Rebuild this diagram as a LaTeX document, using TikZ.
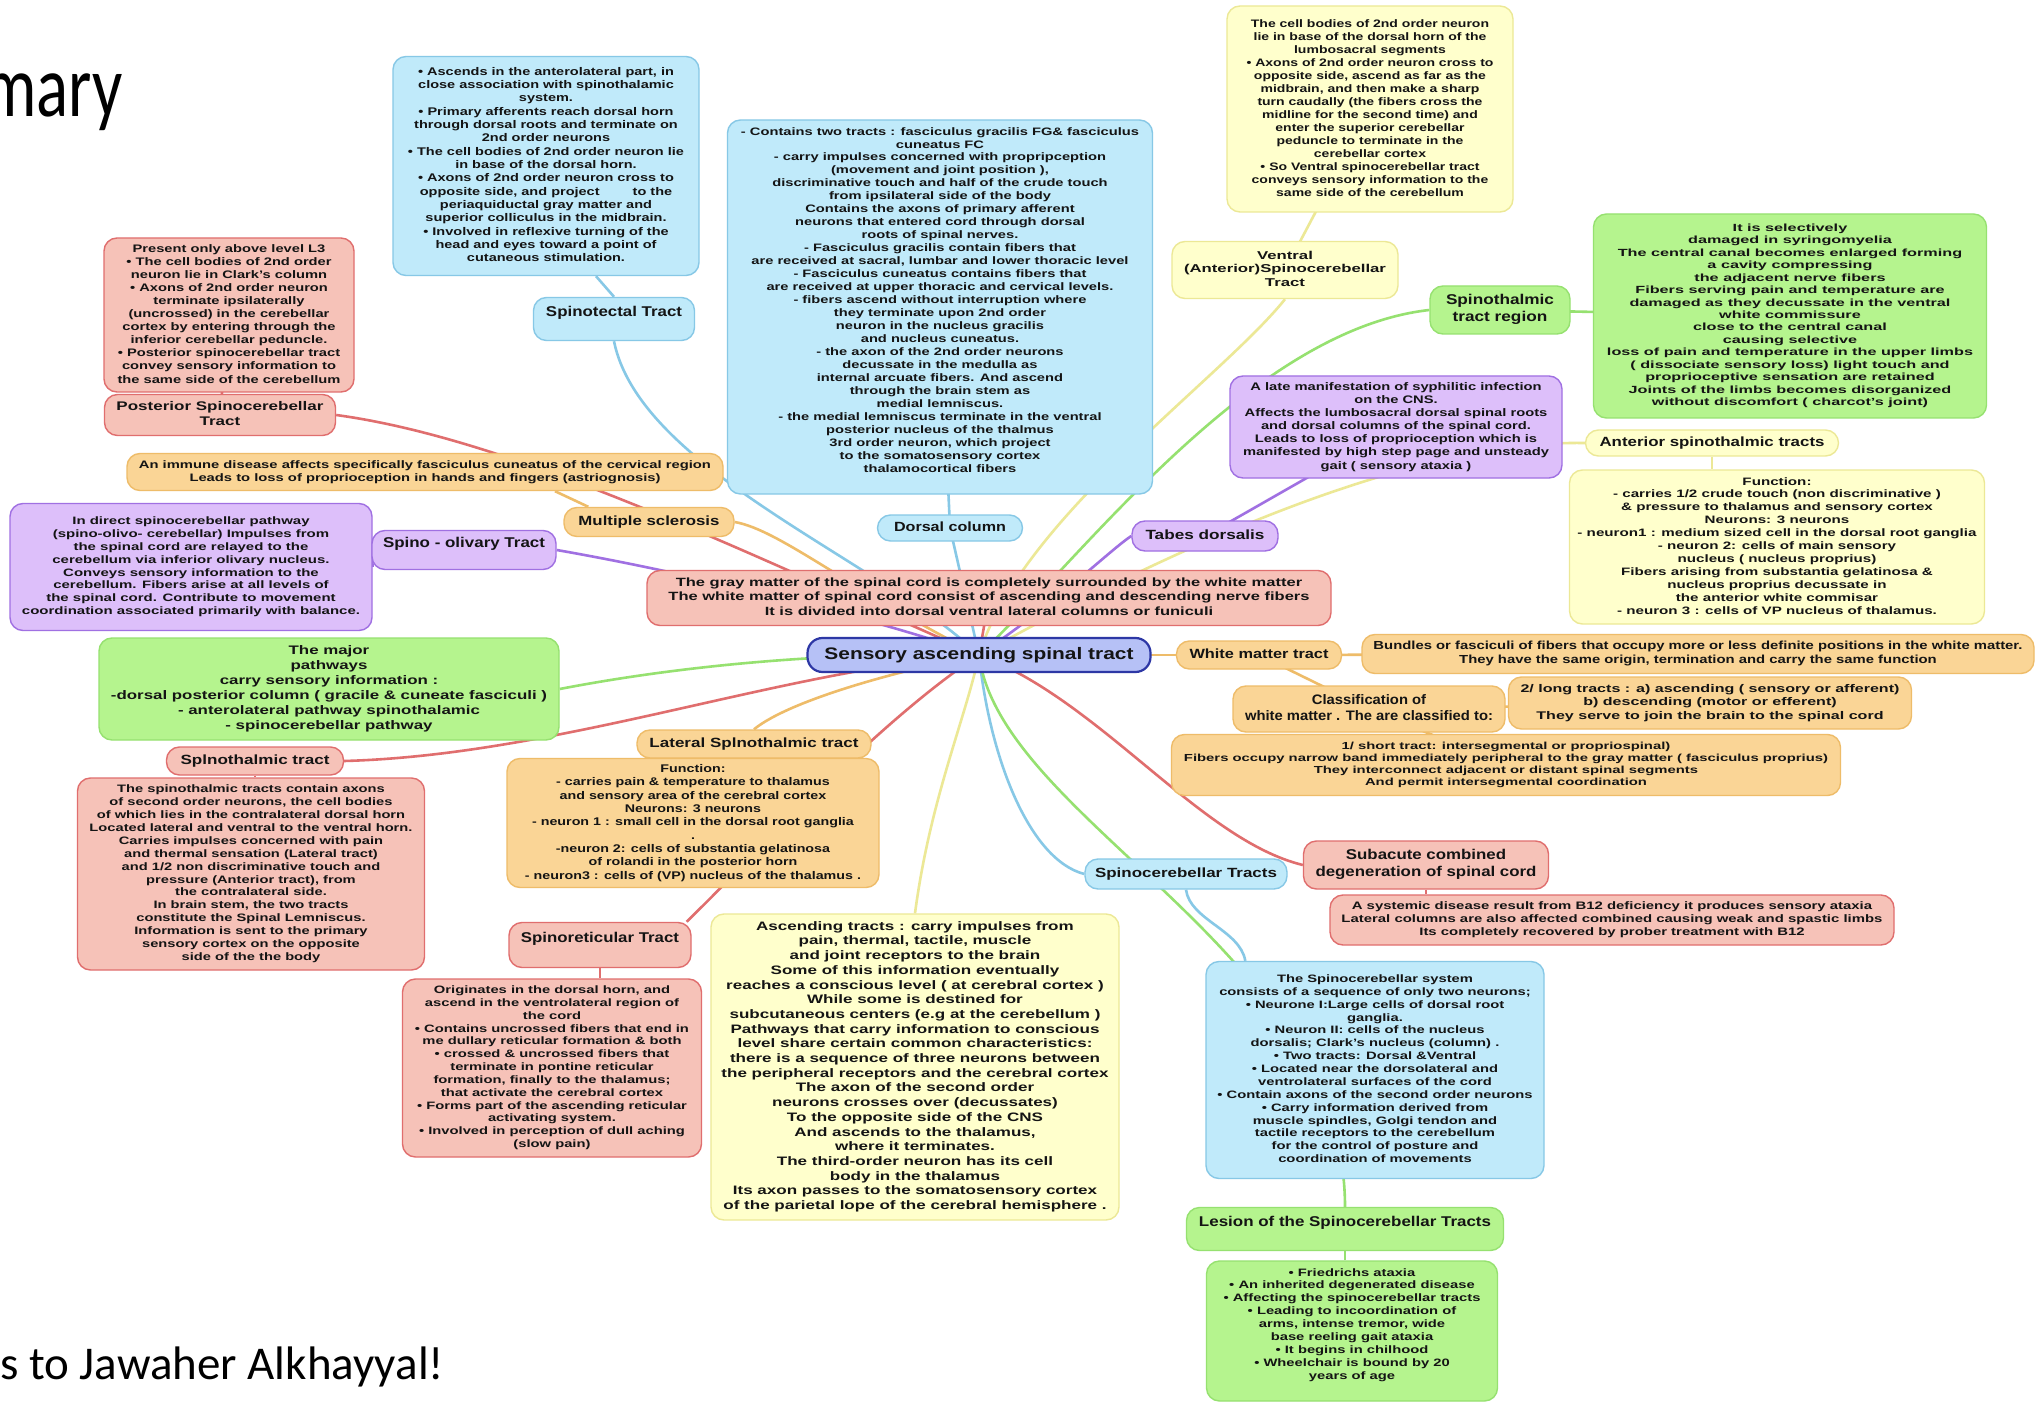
\documentclass[tikz,border=0pt]{standalone}
\usepackage{fontspec}
\setmainfont{Liberation Sans}
\newfontfamily\slidefont{Carlito}[FakeStretch=0.76]
\newfontfamily\slidefontb{Carlito}
\usepackage{graphicx}
\usetikzlibrary{backgrounds,calc}
\definecolor{bfill}{RGB}{192,234,250}\definecolor{bline}{RGB}{135,200,230}
\definecolor{rfill}{RGB}{246,194,184}\definecolor{rline}{RGB}{224,110,110}
\definecolor{ofill}{RGB}{250,213,150}\definecolor{oline}{RGB}{238,188,105}
\definecolor{yfill}{RGB}{255,255,204}\definecolor{yline}{RGB}{236,232,150}
\definecolor{gfill}{RGB}{181,244,142}\definecolor{gline}{RGB}{150,225,112}
\definecolor{pfill}{RGB}{221,191,250}\definecolor{pline}{RGB}{160,112,226}
\definecolor{cfill}{RGB}{182,193,246}\definecolor{cline}{RGB}{45,55,165}
\definecolor{txt}{RGB}{20,20,20}
\newcommand{\bx}[9]{\node[#2, minimum width=#5pt, minimum height=#6pt] (#1) at (#3,#4) {\resizebox*{#7pt}{#8pt}{\bfseries\fontsize{10}{12}\selectfont\begin{tabular}{@{}c@{}}#9\end{tabular}}};}
\newcommand{\bxr}[9]{\node[#2, minimum width=#5pt, minimum height=#6pt] (#1) at (#3,#4) {\raisebox{6pt}[\height][\depth]{\resizebox*{#7pt}{#8pt}{\bfseries\fontsize{10}{12}\selectfont\begin{tabular}{@{}c@{}}#9\end{tabular}}}};}
\tikzset{
  box/.style={draw, rounded corners=13pt, line width=1.4pt, inner sep=0pt, text=txt},
  bluebox/.style={box, fill=bfill, draw=bline},
  redbox/.style={box, fill=rfill, draw=rline},
  orangebox/.style={box, fill=ofill, draw=oline},
  yellowbox/.style={box, fill=yfill, draw=yline},
  greenbox/.style={box, fill=gfill, draw=gline},
  purplebox/.style={box, fill=pfill, draw=pline},
  centralbox/.style={box, fill=cfill, draw=cline, line width=2.2pt, rounded corners=15pt},
  cn/.style={line width=2.6pt},
  bl/.style={cn, draw=bline},
  rl/.style={cn, draw=rline},
  ol/.style={cn, draw=oline},
  yl/.style={cn, draw=yline},
  gl/.style={cn, draw=gline},
  pl/.style={cn, draw=pline},
}
\begin{document}
\begin{tikzpicture}[x=1pt,y=-1pt]
\useasboundingbox (0,0) rectangle (2038,1404);
% slide remnants
\node[font=\slidefont\fontsize{88}{100}\selectfont, anchor=base east, inner sep=0pt] (ttl) at (123,117) {mary};
\node[font=\slidefontb\fontsize{47}{55}\selectfont, anchor=base west, inner sep=0pt] (thx) at (0,1379) {s to Jawaher Alkhayyal!};
% nodes
\bx{spt}{bluebox}{546}{166}{306}{219}{276}{200}{• Ascends in the anterolateral part, in\\close association with spinothalamic\\system.\\• Primary afferents reach dorsal horn\\through dorsal roots and terminate on\\2nd order neurons\\• The cell bodies of 2nd order neuron lie\\in base of the dorsal horn.\\• Axons of 2nd order neuron  cross to\\opposite side, and project \qquad to the\\periaquiductal gray matter and\\superior colliculus in the midbrain.\\• Involved in reflexive turning of the\\head and eyes toward a point of\\cutaneous stimulation.}
\bxr{sptl}{bluebox}{614}{319}{161}{43}{136}{17}{Spinotectal Tract}
\bxr{dct}{bluebox}{940}{307}{425}{374}{398}{350}{- Contains two tracts : fasciculus gracilis FG\& fasciculus\\cuneatus FC\\- carry impulses concerned with propripception\\(movement and joint position ),\\discriminative touch and half of the crude touch\\from ipsilateral side of the body\\Contains the axons of primary afferent\\neurons that entered cord through dorsal\\roots of spinal nerves.\\- Fasciculus gracilis contain fibers that\\are received at sacral, lumbar and lower thoracic level\\- Fasciculus cuneatus contains fibers that\\are received at upper thoracic and cervical levels.\\- fibers ascend without interruption where\\they terminate upon 2nd order\\neuron in the nucleus gracilis\\and nucleus cuneatus.\\- the axon of the 2nd order neurons\\decussate in the medulla as\\internal arcuate fibers. And ascend\\through the brain stem as\\medial lemniscus.\\- the medial lemniscus terminate in the ventral\\posterior nucleus of the thalmus\\3rd order neuron, which project\\to the somatosensory cortex\\thalamocortical fibers}
\bx{dcl}{bluebox}{950}{528}{145}{26}{112}{16}{Dorsal column}
\bx{pst}{redbox}{229}{315}{250}{154}{223}{144}{Present only above level L3\\• The cell bodies of 2nd order\\neuron lie in Clark's column\\• Axons of 2nd order neuron\\terminate ipsilaterally\\(uncrossed) in the cerebellar\\cortex by entering through the\\inferior cerebellar peduncle.\\• Posterior spinocerebellar tract\\convey sensory information to\\the same side of the cerebellum}
\bx{psl}{redbox}{220}{415}{231}{41}{207}{30}{Posterior Spinocerebellar\\Tract}
\bx{mst}{orangebox}{425}{472}{596}{37}{572}{26}{An immune disease affects specifically fasciculus cuneatus of the cervical region\\Leads to loss of proprioception in hands and fingers (astriognosis)}
\bx{msl}{orangebox}{649}{522}{170}{29}{141}{16}{Multiple sclerosis}
\bx{olt}{purplebox}{191}{567}{362}{127}{338}{103}{In direct spinocerebellar pathway\\(spino-olivo- cerebellar) Impulses from\\the spinal  cord are relayed to the\\cerebellum via inferior  olivary nucleus.\\Conveys sensory  information to the\\cerebellum. Fibers arise at all levels of\\the spinal cord. Contribute to movement\\coordination associated  primarily with balance.}
\bxr{oll}{purplebox}{464}{550}{184}{39}{162}{17}{Spino - olivary Tract}
\bx{mjt}{greenbox}{329}{689}{460}{102}{436}{89}{The major\\pathways\\carry sensory information :\\-dorsal posterior column ( gracile \& cuneate fasciculi )\\- anterolateral pathway spinothalamic\\- spinocerebellar pathway}
\bx{stl}{redbox}{255}{761}{177}{28}{149}{16}{Splnothalmic tract}
\bx{stt}{redbox}{251}{874}{347}{192}{323}{181}{The spinothalmic tracts contain axons\\of second order neurons, the cell bodies\\of which lies in the contralateral dorsal horn\\Located lateral and ventral to the ventral horn.\\Carries impulses concerned with pain\\and thermal sensation (Lateral tract)\\and 1/2 non discriminative touch and\\pressure (Anterior tract), from\\the contralateral side.\\In brain stem, the two tracts\\constitute the Spinal Lemniscus.\\Information is sent to the primary\\sensory cortex on the opposite\\side of the the body}
\bx{lsl}{orangebox}{754}{744}{234}{28}{209}{16}{Lateral Splnothalmic tract}
\bx{lst}{orangebox}{693}{823}{372}{129}{336}{120}{Function:\\- carries pain \& temperature to thalamus\\and sensory area of the cerebral cortex\\Neurons: 3 neurons\\- neuron 1 : small cell in the dorsal root ganglia\\.\\-neuron 2: cells of substantia gelatinosa\\of rolandi in the posterior horn\\- neuron3 : cells of (VP) nucleus of the thalamus .}
\bxr{srl}{redbox}{600}{945}{182}{45}{158}{17}{Spinoreticular Tract}
\bx{srt}{redbox}{552}{1068}{299}{178}{274}{167}{Originates in the dorsal horn, and\\ascend in the ventrolateral region of\\the cord\\• Contains uncrossed fibers that end in\\me dullary reticular formation \& both\\• crossed \& uncrossed fibers that\\terminate in pontine reticular\\formation, finally to the thalamus;\\that activate the cerebral cortex\\• Forms part of the ascending reticular\\activating system.\\• Involved in perception of dull aching\\(slow pain)}
\bx{asc}{yellowbox}{915}{1067}{408}{306}{387}{294}{Ascending tracts : carry impulses from\\pain, thermal, tactile,  muscle\\and joint receptors to the brain\\Some of this information eventually\\reaches a conscious level ( at cerebral cortex )\\While some is destined for\\subcutaneous centers (e.g at the cerebellum )\\Pathways that carry information to conscious\\level share certain common characteristics:\\there is a sequence of three neurons between\\the peripheral receptors and the cerebral cortex\\The axon of the second order\\neurons crosses over (decussates)\\To the opposite side of the CNS\\And ascends to the thalamus,\\where it terminates.\\The third-order neuron has its cell\\body in the thalamus\\Its axon passes to the somatosensory cortex\\of the parietal lope of the cerebral hemisphere .}
\bx{scl}{bluebox}{1186}{874}{202}{30}{182}{16}{Spinocerebellar Tracts}
\bx{sct}{bluebox}{1375}{1070}{338}{217}{315}{193}{The Spinocerebellar system\\consists of a sequence of only two neurons;\\• Neurone I:Large cells of dorsal root\\ganglia.\\• Neuron II: cells of the nucleus\\dorsalis; Clark's nucleus (column) .\\• Two tracts: Dorsal \&Ventral\\• Located near the dorsolateral and\\ventrolateral surfaces of the cord\\• Contain axons of the second order neurons\\• Carry information derived from\\muscle spindles, Golgi tendon and\\tactile receptors to the cerebellum\\for the control of posture and\\coordination of movements}
\bxr{lel}{greenbox}{1345}{1229}{317}{43}{292}{17}{Lesion of the Spinocerebellar Tracts}
\bxr{let}{greenbox}{1352}{1331}{291}{140}{257}{116}{• Friedrichs ataxia\\• An inherited degenerated disease\\• Affecting the spinocerebellar tracts\\• Leading to incoordination of\\arms, intense tremor, wide\\base reeling gait ataxia\\• It begins in chilhood\\• Wheelchair is bound by 20\\years of age}
\bx{sul}{redbox}{1426}{865}{245}{48}{221}{34}{Subacute combined\\degeneration of spinal cord}
\bx{sut}{redbox}{1612}{920}{564}{50}{541}{39}{A systemic disease result from B12 deficiency it produces sensory ataxia\\Lateral columns are also affected combined causing weak and spastic limbs\\Its completely recovered by prober treatment with B12}
\bx{sht}{orangebox}{1506}{765}{669}{61}{644}{49}{1/ short tract: intersegmental or propriospinal)\\Fibers occupy narrow band immediately peripheral to the gray matter ( fasciculus proprius)\\They interconnect adjacent or distant spinal segments\\And permit intersegmental coordination}
\bx{clt}{orangebox}{1369}{709}{272}{46}{248}{33}{Classification of\\white matter . The are classified to:}
\bx{lgt}{orangebox}{1710}{703}{403}{52}{379}{40}{2/ long tracts : a) ascending ( sensory or afferent)\\b) descending (motor or efferent)\\They serve to join the brain to the spinal cord}
\bx{wml}{orangebox}{1259}{655}{165}{28}{139}{16}{White matter tract}
\bx{bdt}{orangebox}{1698}{654}{672}{39}{649}{28}{Bundles or fasciculi of fibers that occupy more or less definite positions in the white matter.\\They have the same origin, termination and carry the same function}
\bx{tbl}{purplebox}{1205}{536}{146}{30}{119}{16}{Tabes dorsalis}
\bx{tbt}{purplebox}{1396}{427}{332}{102}{306}{92}{A late manifestation of syphilitic infection\\on the CNS.\\Affects the lumbosacral dorsal spinal roots\\and dorsal columns of the spinal cord.\\Leads to loss of proprioception which is\\manifested by high step page and unsteady\\gait ( sensory ataxia )}
\bx{atl}{yellowbox}{1712}{443}{253}{26}{225}{16}{Anterior spinothalmic tracts}
\bx{att}{yellowbox}{1777}{547}{415}{154}{399}{142}{Function:\\- carries 1/2 crude touch (non discriminative )\\\& pressure to thalamus and sensory cortex\\Neurons: 3 neurons\\- neuron1 : medium sized cell in the dorsal root ganglia\\- neuron 2: cells of main sensory\\nucleus ( nucleus proprius)\\Fibers arising from substantia gelatinosa \&\\nucleus proprius decussate in\\the anterior white commisar\\- neuron 3 : cells of VP nucleus of thalamus.}
\bx{rgl}{greenbox}{1500}{310}{140}{48}{108}{34}{Spinothalmic\\tract region}
\bx{syr}{greenbox}{1790}{316}{393}{204}{366}{187}{It is selectively\\damaged in syringomyelia\\The central canal becomes enlarged forming\\a cavity compressing\\the adjacent nerve fibers\\Fibers serving  pain and temperature are\\damaged as they decussate in the ventral\\white commissure\\close to the central canal\\causing selective\\loss of pain and temperature in the upper limbs\\( dissociate sensory loss) light touch and\\proprioceptive sensation are retained\\Joints of the limbs becomes disorganized\\without discomfort ( charcot's joint)}
\bx{vnl}{yellowbox}{1285}{270}{226}{57}{202}{41}{Ventral\\(Anterior)Spinocerebellar\\Tract}
\bx{vnt}{yellowbox}{1370}{109}{286}{206}{247}{182}{The cell bodies of 2nd order neuron\\lie in base of the dorsal horn of the\\lumbosacral segments\\• Axons of 2nd order neuron cross to\\opposite side, ascend as far as the\\midbrain, and then make a sharp\\turn caudally (the fibers cross the\\midline for the second time) and\\enter the superior cerebellar\\peduncle to terminate in the\\cerebellar cortex\\• So Ventral spinocerebellar tract\\conveys sensory information to the\\same side of the cerebellum}
\bx{gry}{redbox}{989}{598}{684}{55}{641}{43}{The gray matter of the spinal cord is completely surrounded by the white matter\\The white matter of spinal cord consist of ascending and descending nerve fibers\\It is divided  into dorsal ventral lateral columns or funiculi}
\bx{cen}{centralbox}{979}{655}{343}{34}{309}{20}{Sensory ascending spinal tract}
% connectors
\begin{scope}[on background layer]
\fill[white] (0,0) rectangle (2038,1404);
\draw[rl] (cen.center) -- (gry.center);
\draw[rl] (cen.center) .. controls (760,560) and (520,440) .. (psl.east);
\draw[rl] (psl.center) -- (pst.center);
\draw[ol] (cen.center) .. controls (850,590) and (780,530) .. (msl.east);
\draw[ol] ($(msl.north west)+(25,0)$) -- ($(mst.south)+(130,0)$);
\draw[bl] (sptl.south) .. controls (640,470) and (880,560) .. (cen.center);
\draw[bl] (sptl.north) -- ($(spt.south)+(50,0)$);
\draw[pl] (oll.east) .. controls (700,575) and (880,620) .. (cen.center);
\draw[pl] (oll.west) -- (olt.east);
\draw[gl] (mjt.east) .. controls (700,662) and (850,652) .. (cen.center);
\draw[rl] (stl.east) .. controls (560,755) and (780,670) .. (cen.center);
\draw[rl] (stl.south) -- (stt.north -| stl.south);
\draw[ol] (lsl.north) .. controls (790,700) and (900,670) .. (cen.center);
\draw[ol] (lsl.south) -- (lst.north -| lsl.south);
\draw[rl] (srl.15) .. controls (760,850) and (880,720) .. (cen.center);
\draw[rl] (srl.south) -- (srt.north -| srl.south);
\draw[yl] (asc.north) .. controls (930,800) and (965,720) .. (cen.center);
\draw[bl] (cen.center) .. controls (990,760) and (1030,860) .. (scl.west);
\draw[bl] (scl.south) .. controls (1190,920) and (1240,930) .. ($(sct.north west)+(40,0)$);
\draw[gl] (cen.center) .. controls (1000,820) and (1345,950) .. (lel.north);
\draw[gl] (lel.south) -- (let.north -| lel.south);
\draw[rl] (cen.center) .. controls (1100,700) and (1200,840) .. (sul.west);
\draw[rl] (sul.south) -- (sut.north -| sul.south);
\draw[ol] (cen.center) -- (wml.center);
\draw[ol] (wml.center) -- (bdt.center);
\draw[ol] (wml.center) -- (clt.center);
\draw[ol] (clt.center) -- (lgt.center);
\draw[ol] (clt.center) -- (sht.center);
\draw[pl] (cen.center) .. controls (1060,600) and (1110,550) .. (tbl.west);
\draw[pl] (tbl.center) -- (tbt.center);
\draw[gl] (cen.center) .. controls (1080,560) and (1250,330) .. (rgl.west);
\draw[gl] (rgl.center) -- (syr.center);
\draw[yl] (cen.center) .. controls (1150,560) and (1400,440) .. (atl.west);
\draw[yl] (atl.south) -- (att.north -| atl.south);
\draw[yl] (cen.center) .. controls (1020,520) and (1220,380) .. (vnl.south);
\draw[yl] (vnl.center) -- (vnt.center);
\draw[bl] (cen.center) -- (dcl.center);
\draw[bl] (dcl.center) -- (dct.center);
\end{scope}
\end{tikzpicture}
\end{document}
